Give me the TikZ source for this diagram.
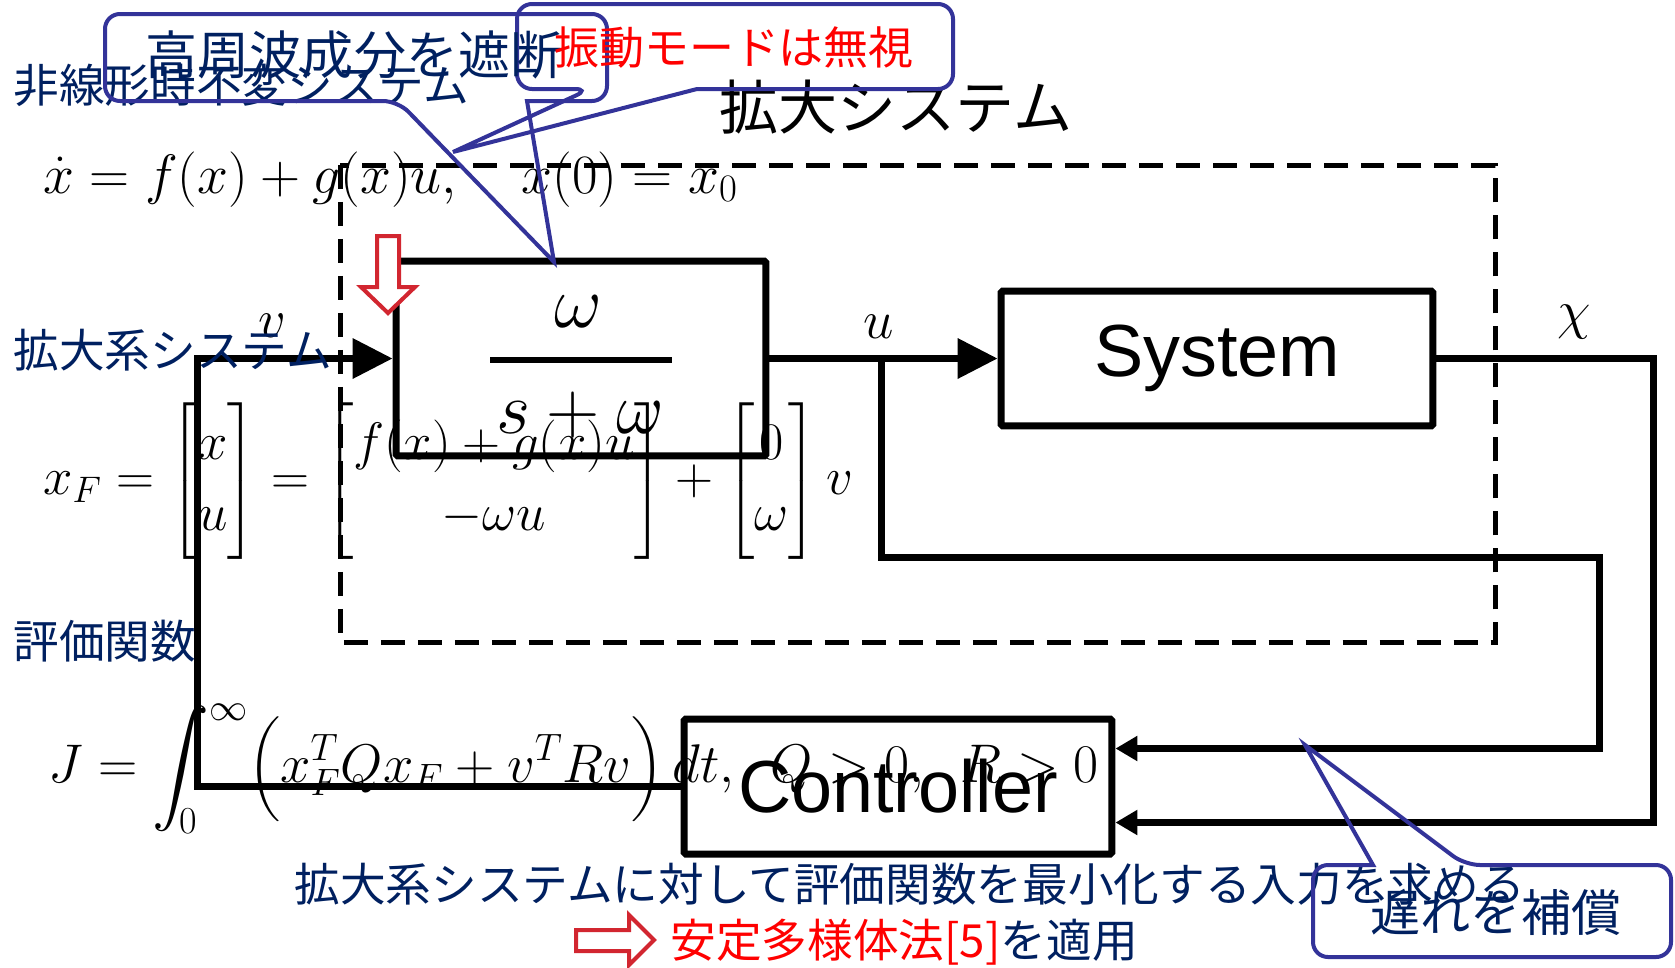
\RequirePackage{fix-cm}
\documentclass[tikz,border=0pt]{standalone}
\usepackage{amsmath}
\usepackage{fontspec}
\newfontfamily\jpfont{Noto Sans CJK JP}
\newfontfamily\arialfont{Liberation Sans}
\usetikzlibrary{arrows.meta,calc,positioning}
\definecolor{jpnavy}{RGB}{0,32,96}
\definecolor{callblue}{RGB}{51,51,153}
\definecolor{arrowred}{RGB}{210,38,48}
\definecolor{textred}{RGB}{255,0,0}
\tikzset{
  block/.style={draw, line width=0.14cm, inner sep=0pt, rounded corners=1pt, font=\arialfont\fontsize{42}{50}\selectfont},
  sig/.style={line width=0.14cm},
  bigtip/.style={-{Triangle[length=0.8cm,width=0.78cm]}},
  smalltip/.style={-{Triangle[length=0.44cm,width=0.48cm]}},
  dashbox/.style={line width=0.1cm, dash pattern=on 0.48cm off 0.26cm},
  callout/.style={draw=callblue, line width=0.08cm, rounded corners=0.3cm},
  hollow/.style={draw=arrowred, fill=white, line width=0.08cm, line join=miter},
  jplabel/.style={font=\jpfont\fontsize{#1}{#1}\selectfont, text=jpnavy, inner sep=0pt},
  jplabel/.default=26,
  mathtext/.style={font=\fontsize{#1}{#1}\selectfont, inner sep=0pt},
  mathtext/.default=31
}
\newcommand{\bigint}{\mathop{\vcenter{\hbox{\scalebox{1.3}{$\displaystyle\int$}}}}\nolimits}

\begin{document}
\begin{tikzpicture}[x=0.02cm, y=-0.02cm]
\useasboundingbox (0,0) rectangle (1675,967);

% 拡大システムの枠
\draw[dashbox] (340,165) rectangle (1495,642);

% ブロック
\node[block, minimum width=7.4cm, minimum height=3.9cm] (filter) at (581,358.5) {};
\node[block, minimum width=8.64cm, minimum height=2.7cm] (sys) at (1217,358.5) {System};
\node[block, minimum width=8.56cm, minimum height=2.7cm] (ctrl) at (898,786.5) {Controller};

% 伝達関数
\node[mathtext=42, anchor=base] (fnum) at (578,327) {$\omega$};
\draw[line width=0.12cm] (490,360) -- (672,360);
\node[mathtext=42, anchor=base] (fden) at (580,433) {$s+\omega$};

% 信号線
\coordinate (vcorner) at (197,358.5);
\coordinate (ubranch) at (881,358.5);
\coordinate (ucorner) at (1599,557);
\coordinate (xcorner) at (1653,358.5);
\draw[sig, bigtip] (ctrl.west) -| (vcorner) -- (filter.west);
\draw[sig, bigtip] (filter.east) -- (sys.west);
\draw[sig, smalltip] (ubranch) |- (ucorner) |- ($(ctrl.east)+(0,-38)$);
\draw[sig, smalltip] (sys.east) -- (xcorner) |- ($(ctrl.east)+(0,36)$);

% 赤い矢印
\draw[hollow] (377,236) -- (399,236) -- (399,287) -- (415,287) -- (388,313) -- (361,287) -- (377,287) -- cycle;
\draw[hollow] (576,930) -- (629,930) -- (629,915) -- (654,940) -- (629,965) -- (629,951) -- (576,951) -- cycle;

% 信号名
\node[mathtext] (vlab) at (272,326) {$v$};
\node[mathtext] (ulab) at (879,327) {$u$};
\node[mathtext] (chilab) at (1574,322) {$\chi$};

% 数式
\node[mathtext=31.6, anchor=base west] (eqsys) at (43,193) {$\dot{x} = f(x) + g(x)u, \quad x(0) = x_0$};
\node[mathtext, font=\fontsize{30}{40}\selectfont, anchor=west] (eqaug) at (43,481)
  {$x_F = \begin{bmatrix} x\\ u \end{bmatrix} = \begin{bmatrix} f(x)+g(x)u\\ -\omega u \end{bmatrix} + \begin{bmatrix} 0\\ \omega \end{bmatrix} v$};
\node[mathtext, anchor=west] (eqcost) at (48,769)
  {$\displaystyle J = \bigint_{\kern-0.55em 0}^\infty \Bigl( x_F^T Q x_F + v^T R v \Bigr)\, dt,\enspace Q > 0,\enspace R > 0$};

% 説明の文字
\node[jplabel, anchor=west] (ltinv) at (13,85) {非線形時不変システム};
\node[jplabel, anchor=west] (laug) at (13,350) {拡大系システム};
\node[jplabel, anchor=west] (lcost) at (13,641) {評価関数};
\node[jplabel, anchor=west] (lgoal) at (294,884) {拡大系システムに対して評価関数を最小化する入力を求める};
\node[jplabel, anchor=west] (lmethod) at (670,942) {\textcolor{textred}{安定多様体法[5]}を適用};
\node[jplabel=33.6, text=black] (ltitle) at (896,107) {拡大システム};

% 吹き出し
\draw[callout] (554,262) [sharp corners] -- (527,101) [rounded corners=0.3cm] -- (607,101) -- (607,14) -- (105,14) -- (105,101) -- (398,101) [sharp corners] -- cycle;
\draw[callout] (453,152) [sharp corners] -- (697,89) [rounded corners=0.3cm] -- (953,89) -- (953,4) -- (517,4) -- (517,89) -- (590,89) [sharp corners] -- cycle;
\draw[callout] (1305,745) [sharp corners] -- (1373,865) [rounded corners=0.3cm] -- (1313,865) -- (1313,957) -- (1671,957) -- (1671,865) -- (1465,865) [sharp corners] -- cycle;
\node[jplabel=29.6] (nhigh) at (354,55) {高周波成分を遮断};
\node[jplabel=25.6, text=textred] (nmode) at (734,48) {振動モードは無視};
\node[jplabel=28.5] (ndelay) at (1496,913) {遅れを補償};
\end{tikzpicture}
\end{document}
